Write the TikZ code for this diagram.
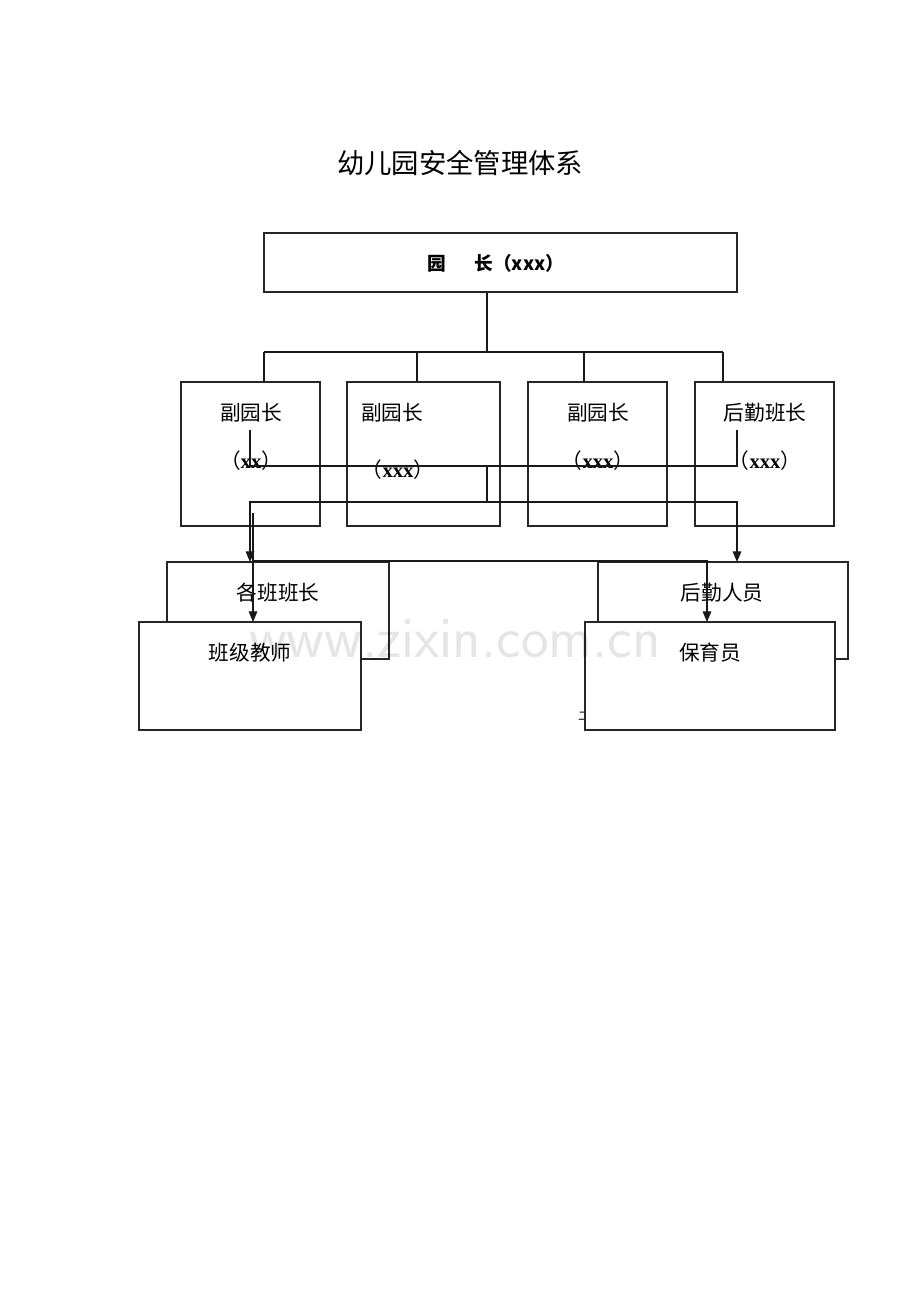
\documentclass[tikz,border=0pt]{standalone}
\usepackage{fontspec}
\setmainfont{Liberation Serif}
\newfontfamily\cjk{Noto Sans CJK SC}
\usetikzlibrary{arrows.meta}
\newcommand\kgname[1]{{\cjk （}{\rmfamily\bfseries #1}{\cjk ）}}
\tikzset{
  box/.style 2 args={draw=black!85, line width=0.8pt, inner sep=0pt,
                     minimum width=#1*0.75pt, minimum height=#2*0.75pt},
  lbl/.style={font=\cjk\fontsize{15.5}{18}\selectfont, inner sep=0pt},
  link/.style={draw=black!90, line width=0.8pt},
  arr/.style={link, -{Triangle[length=8pt,width=6.5pt]}}
}
\begin{document}
\begin{tikzpicture}[x=0.75pt, y=-0.75pt]
      \useasboundingbox (0,0) rectangle (920,1302);
      \coordinate (bus) at (487,352);
      \coordinate (d1) at (264,352);
      \coordinate (d2) at (417,352);
      \coordinate (d3) at (584,352);
      \coordinate (d4) at (723,352);
      \coordinate (k1) at (250,430);
      \coordinate (k2) at (737,430);
      \coordinate (m) at (487,466);
      \coordinate (j) at (487,502);
      \coordinate (a1) at (250,562);
      \coordinate (a2) at (737,562);
      \coordinate (s1) at (253,513);
      \coordinate (s2) at (253,561);
      \coordinate (b1) at (253,622);
      \coordinate (b2) at (707,622);
      \node[font=\cjk\fontsize{20.5}{24}\selectfont] (title) at (460,163) {幼儿园安全管理体系};
      \node[box={473}{59}] (yz) at (500.5,262.5) {};
      \node[font=\cjk\bfseries\fontsize{14}{16}\selectfont] (t_yz) at (496,263) {园\hspace{1.5em}长（xxx）};
      \node[box={139}{144}] (fy1) at (250.5,454) {};
      \node[box={153}{144}] (fy2) at (423.5,454) {};
      \node[box={139}{144}] (fy3) at (597.5,454) {};
      \node[box={139}{144}] (hqbz) at (764.5,454) {};
      \node[lbl] (t_fy1) at (251,413) {副园长};
      \node[lbl] (n_fy1) at (251,461) {\kgname{xx}};
      \node[lbl] (t_fy2) at (392,413) {副园长};
      \node[lbl] (n_fy2) at (398,470) {\kgname{xxx}};
      \node[lbl] (t_fy3) at (598,413) {副园长};
      \node[lbl] (n_fy3) at (598,461) {\kgname{xxx}};
      \node[lbl] (t_hq) at (765,413) {后勤班长};
      \node[lbl] (n_hq) at (765,461) {\kgname{xxx}};
      \node[box={222}{97}] (bzz) at (278,610.5) {};
      \node[box={250}{97}] (hqry) at (723,610.5) {};
      \node[lbl] (t_bzz) at (278,593) {各班班长};
      \node[lbl] (t_hqry) at (722,593) {后勤人员};
      \node[font=\cjk\fontsize{9}{9}\selectfont, inner sep=0pt] (er) at (584,716) {二};
      \node[box={222}{108}, fill=white] (jsh) at (250,676) {};
      \node[box={250}{108}, fill=white] (byy) at (710,676) {};
      \node[lbl] (t_jsh) at (250,653) {班级教师};
      \node[lbl] (t_byy) at (710,653) {保育员};
      \draw[link] (yz.south -| bus) -- (bus);
      \draw[link] (d1) -- (d4);
      \draw[link] (d1) -- (d1 |- fy1.north);
      \draw[link] (d2) -- (d2 |- fy2.north);
      \draw[link] (d3) -- (d3 |- fy3.north);
      \draw[link] (d4) -- (d4 |- hqbz.north);
      \draw[link] (k1) -- ++(0,36) -| (k2);
      \draw[link] (m) -- (j);
      \draw[arr] (j) -| (a1);
      \draw[arr] (j) -| (a2);
      \draw[arr] (s1) -- (b1);
      \draw[arr] (s2) -| (b2);
      \node[font=\fontsize{44}{44}\selectfont, text=black, opacity=0.1,
            anchor=base, inner sep=0pt] (wm) at (455,657) {\sffamily www.zixin.com.cn};
    \end{tikzpicture}
\end{document}
